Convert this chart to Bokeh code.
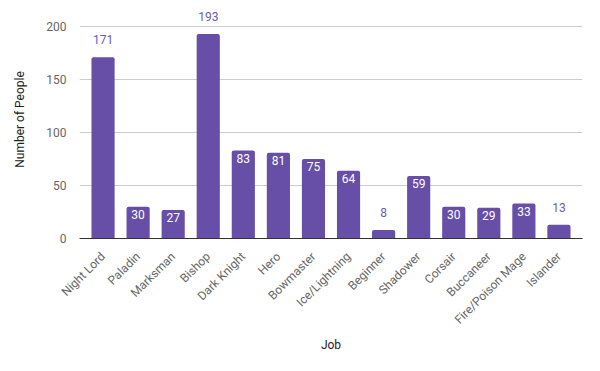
import math
from bokeh.plotting import figure
from bokeh.models import ColumnDataSource, FixedTicker, Range1d, FactorRange
from bokeh.core.properties import value
from bokeh.embed import file_html
from bokeh.resources import INLINE

jobs = ["Night Lord", "Paladin", "Marksman", "Bishop", "Dark Knight", "Hero",
        "Bowmaster", "Ice/Lightning", "Beginner", "Shadower", "Corsair",
        "Buccaneer", "Fire/Poison Mage", "Islander"]
people = [171, 30, 27, 193, 83, 81, 75, 64, 8, 59, 30, 29, 33, 13]
y_ticks = [0, 50, 100, 150, 200]

BAR = "#674ea7"
FONT = "Roboto"

p = figure(x_range=FactorRange(*jobs, range_padding=0.0245),
           y_range=Range1d(0, 224.5), width=600, height=371,
           output_backend="svg", toolbar_location=None,
           min_border_left=79, min_border_right=18, min_border_top=0,
           min_border_bottom=133)
p.outline_line_color = None
p.background_fill_color = "white"
p.border_fill_color = "white"

src = ColumnDataSource(dict(job=jobs, n=people))
p.vbar(x="job", top="n", width=0.66, source=src, fill_color=BAR,
       line_color=None, border_radius=[2, 2, 0, 0])

inside = [i for i, v in enumerate(people) if 20 <= v <= 150]
outside = [i for i, v in enumerate(people) if not (20 <= v <= 150)]
src_in = ColumnDataSource(dict(job=[jobs[i] for i in inside],
                               n=[people[i] for i in inside],
                               lab=[str(people[i]) for i in inside]))
src_out = ColumnDataSource(dict(job=[jobs[i] for i in outside],
                                n=[people[i] for i in outside],
                                lab=[str(people[i]) for i in outside]))
p.text(x="job", y="n", text="lab", source=src_in, text_color="white",
       text_font=value(FONT), text_font_size="12px", text_align="center",
       text_baseline="top", y_offset=3)
p.text(x="job", y="n", text="lab", source=src_out, text_color="#6a5bb8",
       text_font=value(FONT), text_font_size="12px", text_align="center",
       text_baseline="bottom", y_offset=-13)

p.xgrid.grid_line_color = None
p.ygrid.grid_line_color = "#cccccc"
p.ygrid.ticker = FixedTicker(ticks=y_ticks)

p.yaxis.ticker = FixedTicker(ticks=y_ticks)
p.yaxis.axis_line_color = None
p.yaxis.major_tick_line_color = None
p.yaxis.minor_tick_line_color = None
p.yaxis.major_label_text_color = "#666666"
p.yaxis.major_label_text_font = FONT
p.yaxis.major_label_text_font_size = "12px"
p.yaxis.major_label_standoff = 7
p.yaxis.axis_label = "Number of People"
p.yaxis.axis_label_text_font = FONT
p.yaxis.axis_label_text_font_style = "normal"
p.yaxis.axis_label_text_font_size = "12px"
p.yaxis.axis_label_text_color = "#222222"
p.yaxis.axis_label_standoff = 16

p.xaxis.axis_line_color = "#333333"
p.xaxis.major_tick_line_color = None
p.xaxis.minor_tick_line_color = None
p.xaxis.major_label_orientation = math.pi / 4
p.xaxis.major_label_text_color = "#666666"
p.xaxis.major_label_text_font = FONT
p.xaxis.major_label_text_font_size = "12px"
p.xaxis.major_label_standoff = 10
p.xaxis.axis_label = "Job"
p.xaxis.axis_label_text_font = FONT
p.xaxis.axis_label_text_font_style = "normal"
p.xaxis.axis_label_text_font_size = "12px"
p.xaxis.axis_label_text_color = "#222222"
p.xaxis.axis_label_standoff = 4

open("out.html", "w").write(file_html(p, INLINE))
